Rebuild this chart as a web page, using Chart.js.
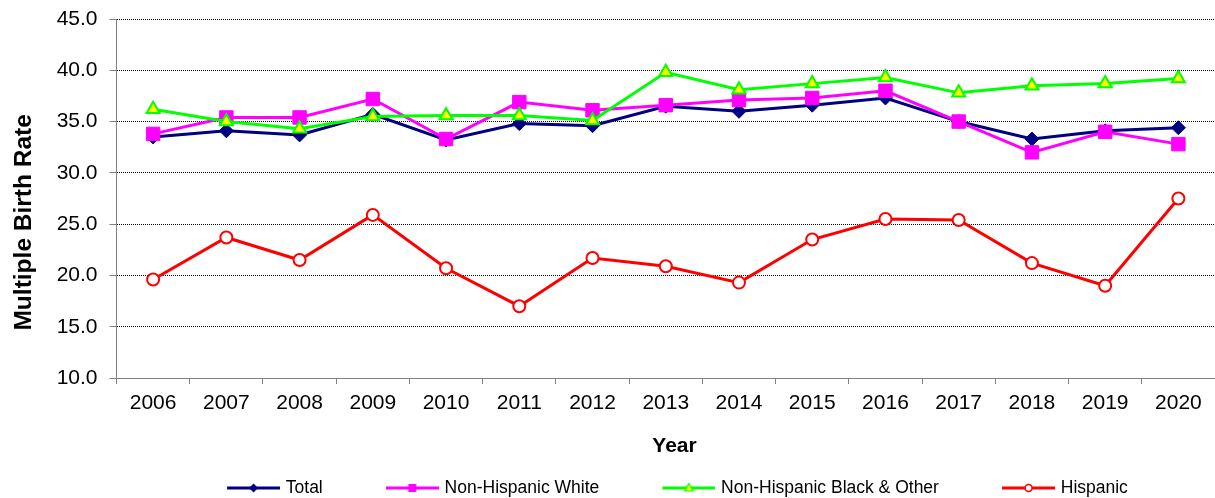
<!DOCTYPE html>
<html>
<head>
<meta charset="utf-8">
<script src="https://cdn.jsdelivr.net/npm/chart.js@4.4.1/dist/chart.umd.min.js"></script>
<style>
html,body{margin:0;padding:0;background:#ffffff;}
#wrap{width:1215px;height:498px;position:relative;}
</style>
</head>
<body>
<div id="wrap"><canvas id="c" width="1215" height="498"></canvas></div>
<script>
// ---- data ----
const years = ['2006','2007','2008','2009','2010','2011','2012','2013','2014','2015','2016','2017','2018','2019','2020'];
const totalRate    = [33.5, 34.1, 33.7, 35.7, 33.2, 34.8, 34.6, 36.5, 36.0, 36.6, 37.3, 35.0, 33.3, 34.1, 34.4];
const nhWhiteRate  = [33.8, 35.4, 35.4, 37.2, 33.3, 36.9, 36.1, 36.6, 37.1, 37.3, 38.0, 35.0, 32.0, 34.0, 32.8];
const nhBlackRate  = [36.2, 35.0, 34.3, 35.5, 35.6, 35.6, 35.1, 39.8, 38.1, 38.7, 39.3, 37.8, 38.5, 38.7, 39.2];
const hispanicRate = [19.6, 23.7, 21.5, 25.9, 20.7, 17.0, 21.7, 20.9, 19.3, 23.5, 25.5, 25.4, 21.2, 19.0, 27.5];
const seriesNames  = ['Total', 'Non-Hispanic White', 'Non-Hispanic Black & Other', 'Hispanic'];
const yMin = 10, yMax = 45, yStep = 5;
const yTitle = 'Multiple Birth Rate';
const xTitle = 'Year';

const FONT = 'Liberation Sans, Arial, Helvetica, sans-serif';
const NAVY = '#000080', MAGENTA = '#FF00FF', LIME = '#00FF00', YELLOW = '#FFFF00', RED = '#FF0000';

// legend glyph: line with a small marker
const LG_GAP = 38, LG_BOX = 50 + LG_GAP;
function legendGlyph(lineColor, kind) {
  const W = LG_BOX + 6, H = 16;
  const c = document.createElement('canvas');
  c.width = W; c.height = H;
  const ctx = c.getContext('2d');
  const y = H / 2;
  ctx.strokeStyle = lineColor; ctx.lineWidth = 3;
  ctx.beginPath(); ctx.moveTo(LG_GAP + 3, y); ctx.lineTo(W, y); ctx.stroke();
  const cx = LG_GAP + 3 + 26.5;
  ctx.beginPath();
  if (kind === 'diamond') {
    ctx.moveTo(cx - 4.5, y); ctx.lineTo(cx, y - 4.5); ctx.lineTo(cx + 4.5, y); ctx.lineTo(cx, y + 4.5); ctx.closePath();
    ctx.fillStyle = NAVY; ctx.fill();
  } else if (kind === 'square') {
    ctx.rect(cx - 4, y - 4, 8, 8);
    ctx.fillStyle = MAGENTA; ctx.fill();
  } else if (kind === 'triangle') {
    ctx.moveTo(cx, y - 4.5); ctx.lineTo(cx + 4.2, y + 3); ctx.lineTo(cx - 4.2, y + 3); ctx.closePath();
    ctx.fillStyle = YELLOW; ctx.fill(); ctx.lineWidth = 1.2; ctx.strokeStyle = LIME; ctx.stroke();
  } else {
    ctx.arc(cx, y, 3.5, 0, Math.PI * 2);
    ctx.fillStyle = '#fff'; ctx.fill(); ctx.lineWidth = 1.6; ctx.strokeStyle = RED; ctx.stroke();
  }
  return c;
}
const glyphs = [legendGlyph(NAVY, 'diamond'), legendGlyph(MAGENTA, 'square'), legendGlyph(LIME, 'triangle'), legendGlyph(RED, 'circle')];

const chart = new Chart(document.getElementById('c'), {
  type: 'line',
  data: {
    labels: years,
    datasets: [
      { label: seriesNames[0], data: totalRate, borderColor: NAVY, backgroundColor: NAVY, borderWidth: 3,
        pointStyle: 'rectRot', pointRadius: 7, pointBackgroundColor: NAVY, pointBorderColor: NAVY, pointBorderWidth: 1, order: 3 },
      { label: seriesNames[1], data: nhWhiteRate, borderColor: MAGENTA, backgroundColor: MAGENTA, borderWidth: 3,
        pointStyle: 'rect', pointRadius: 9.5, pointBackgroundColor: MAGENTA, pointBorderColor: MAGENTA, pointBorderWidth: 1, order: 2 },
      { label: seriesNames[2], data: nhBlackRate, borderColor: LIME, backgroundColor: YELLOW, borderWidth: 3,
        pointStyle: 'triangle', pointRadius: 7.5, pointBackgroundColor: YELLOW, pointBorderColor: LIME, pointBorderWidth: 2, order: 1 },
      { label: seriesNames[3], data: hispanicRate, borderColor: RED, backgroundColor: '#ffffff', borderWidth: 3,
        pointStyle: 'circle', pointRadius: 6, pointBackgroundColor: '#ffffff', pointBorderColor: RED, pointBorderWidth: 2, order: 0 }
    ]
  },
  options: {
    responsive: false,
    animation: false,
    events: [],
    devicePixelRatio: 1,
    layout: { autoPadding: false, padding: { top: 19, right: 0, left: 0, bottom: -8.75 } },
    elements: { line: { tension: 0 } },
    plugins: {
      tooltip: { enabled: false },
      legend: {
        position: 'bottom',
        fullSize: false,
        labels: {
          usePointStyle: true,
          pointStyleWidth: LG_BOX,
          padding: 10.5,
          font: { family: FONT, size: 17.5 },
          color: '#000',
          generateLabels: (ch) => ch.data.datasets.map((ds, i) => ({
            text: ds.label + '   ',
            fillStyle: ds.backgroundColor,
            strokeStyle: ds.borderColor,
            lineWidth: 0,
            fontColor: '#000',
            hidden: !ch.isDatasetVisible(i),
            datasetIndex: i,
            pointStyle: glyphs[i]
          }))
        }
      }
    },
    scales: {
      x: {
        offset: true,
        afterFit: (s) => { s.height = 90.75; s.paddingLeft = 0; s.paddingRight = 0; },
        grid: { display: true, drawOnChartArea: false, drawTicks: true, tickLength: 6, tickColor: '#808080', offset: true },
        border: { display: true, color: '#808080', width: 1 },
        ticks: { color: '#000', padding: 7, font: { family: FONT, size: 21 }, maxRotation: 0, autoSkip: false },
        title: { display: true, text: '   ' + xTitle, color: '#000', font: { family: FONT, size: 21, weight: 'bold' }, padding: { top: 0, bottom: 10.2 } }
      },
      y: {
        min: yMin, max: yMax,
        afterFit: (s) => { s.width = 116.5; s.paddingTop = 0; s.paddingBottom = 0; },
        grid: { display: true, color: '#000', lineWidth: 1, drawTicks: true, tickLength: 7, tickColor: '#808080', tickBorderDash: [] },
        border: { display: true, color: '#808080', width: 1, dash: [1, 1] },
        ticks: { stepSize: yStep, color: '#000', padding: 12, font: { family: FONT, size: 21 }, callback: (v) => Number(v).toFixed(1) },
        title: { display: true, text: yTitle + '       ', color: '#000', font: { family: FONT, size: 24.5, weight: 'bold' }, padding: { top: 9.3, bottom: 0 } }
      }
    }
  }
});
</script>
</body>
</html>
